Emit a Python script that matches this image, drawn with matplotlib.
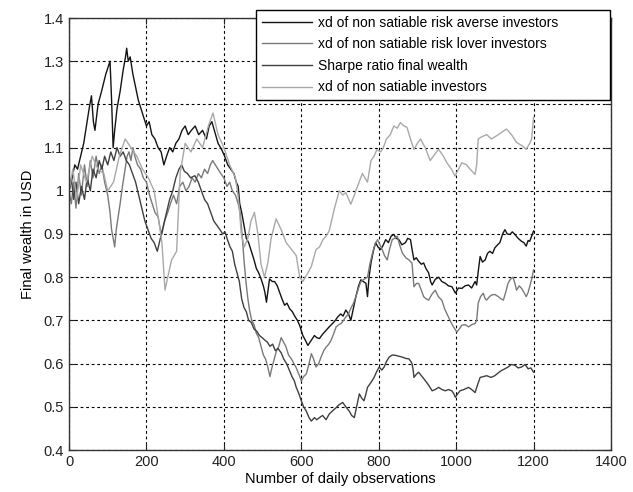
import matplotlib
matplotlib.use("Agg")
import matplotlib.pyplot as plt
from matplotlib.ticker import FormatStrFormatter


averse_x = [0, 8, 15, 22, 30, 38, 45, 52, 58, 63, 67, 75, 84, 95, 106, 110, 114, 118, 124, 132,
            140, 146, 149, 153, 158, 165, 172, 179, 186, 193, 200, 207, 214, 222, 230, 238, 245, 252, 260, 268,
            276, 284, 292, 300, 308, 316, 326, 335, 345, 355, 362, 369, 377, 385, 394, 402, 410, 418, 426, 432,
            437, 441, 446, 452, 458, 464, 471, 478, 484, 490, 496, 502, 506, 510, 514, 518, 525, 531, 538, 544,
            550, 557, 563, 570, 577, 583, 590, 596, 604, 610, 617, 626, 634, 640, 647, 655, 664, 672, 681, 688,
            694, 702, 708, 715, 722, 728, 735, 741, 748, 754, 760, 767, 771, 775, 780, 786, 792, 798, 805, 812,
            818, 825, 832, 839, 845, 852, 860, 869, 875, 882, 887, 891, 897, 903, 910, 916, 922, 929, 934, 938,
            946, 955, 963, 972, 980, 989, 994, 998, 1006, 1015, 1023, 1032, 1040, 1049, 1053, 1058, 1062, 1068, 1075, 1081,
            1087, 1094, 1100, 1107, 1113, 1120, 1126, 1132, 1139, 1145, 1152, 1160, 1169, 1175, 1181, 1186, 1190, 1195, 1200]
averse_y = [1.00, 1.03, 1.06, 1.05, 1.08, 1.11, 1.15, 1.19, 1.22, 1.16, 1.14, 1.20, 1.23, 1.27, 1.30, 1.21, 1.10, 1.14, 1.19, 1.23,
            1.28, 1.31, 1.33, 1.30, 1.31, 1.27, 1.24, 1.21, 1.19, 1.17, 1.15, 1.16, 1.13, 1.12, 1.10, 1.09, 1.06, 1.08, 1.10, 1.09,
            1.11, 1.12, 1.14, 1.15, 1.13, 1.14, 1.15, 1.13, 1.14, 1.12, 1.15, 1.16, 1.135, 1.11, 1.096, 1.08, 1.06, 1.05, 1.04, 1.02,
            1.01, 0.97, 0.95, 0.92, 0.89, 0.88, 0.86, 0.84, 0.82, 0.81, 0.796, 0.78, 0.765, 0.742, 0.77, 0.796, 0.79, 0.79, 0.78, 0.765,
            0.75, 0.735, 0.74, 0.727, 0.72, 0.71, 0.70, 0.688, 0.665, 0.655, 0.642, 0.654, 0.665, 0.66, 0.658, 0.668, 0.677, 0.685, 0.693, 0.70,
            0.708, 0.715, 0.71, 0.724, 0.715, 0.70, 0.73, 0.755, 0.78, 0.794, 0.79, 0.786, 0.755, 0.80, 0.833, 0.86, 0.88, 0.87, 0.864, 0.875,
            0.887, 0.88, 0.895, 0.899, 0.89, 0.887, 0.875, 0.88, 0.89, 0.887, 0.86, 0.84, 0.845, 0.837, 0.83, 0.833, 0.82, 0.81, 0.79, 0.782,
            0.795, 0.80, 0.79, 0.786, 0.78, 0.778, 0.77, 0.763, 0.775, 0.774, 0.78, 0.782, 0.775, 0.79, 0.782, 0.82, 0.848, 0.835, 0.84, 0.855,
            0.86, 0.855, 0.868, 0.875, 0.88, 0.90, 0.91, 0.90, 0.899, 0.905, 0.899, 0.89, 0.883, 0.88, 0.872, 0.885, 0.883, 0.895, 0.907]

lover_x = [0, 6, 12, 18, 25, 32, 40, 47, 55, 62, 70, 78, 85, 92, 100, 106, 110, 114, 118, 122,
           127, 132, 138, 145, 150, 155, 160, 165, 170, 177, 185, 192, 200, 208, 215, 222, 230, 236, 240, 247,
           255, 262, 270, 278, 286, 294, 302, 310, 318, 326, 334, 342, 350, 358, 365, 371, 378, 385, 392, 400,
           408, 415, 422, 430, 437, 442, 447, 452, 457, 462, 467, 472, 478, 484, 490, 496, 502, 508, 514, 519,
           524, 530, 536, 542, 548, 554, 560, 567, 575, 581, 587, 594, 600, 606, 613, 620, 626, 632, 638, 645,
           651, 658, 664, 671, 677, 684, 690, 697, 703, 709, 715, 722, 728, 735, 741, 748, 754, 762, 771, 777,
           784, 790, 797, 803, 809, 815, 822, 828, 835, 841, 848, 854, 861, 870, 878, 883, 886, 889, 891, 897,
           903, 910, 916, 922, 929, 937, 946, 954, 963, 971, 980, 987, 993, 1002, 1008, 1015, 1024, 1032, 1040, 1049,
           1053, 1057, 1063, 1070, 1075, 1079, 1086, 1092, 1100, 1109, 1116, 1122, 1128, 1134, 1140, 1147, 1152, 1156, 1163, 1169,
           1175, 1181, 1186, 1190, 1195, 1200]
lover_y = [1.00, 0.97, 1.02, 0.96, 1.04, 0.99, 1.06, 1.01, 1.07, 1.03, 1.08, 1.04, 1.06, 1.02, 0.99, 0.95, 0.91, 0.89, 0.87, 0.91,
           0.94, 0.97, 1.01, 1.05, 1.08, 1.09, 1.07, 1.10, 1.08, 1.06, 1.05, 1.03, 1.02, 0.99, 0.97, 0.95, 0.94, 0.91, 0.90, 0.93,
           0.95, 0.97, 0.99, 0.97, 1.01, 1.02, 1.00, 1.01, 1.03, 1.02, 1.04, 1.03, 1.05, 1.04, 1.06, 1.07, 1.06, 1.05, 1.04, 1.03,
           1.01, 1.02, 1.00, 0.99, 0.97, 0.95, 0.90, 0.84, 0.79, 0.75, 0.72, 0.70, 0.69, 0.67, 0.66, 0.64, 0.62, 0.61, 0.59, 0.57,
           0.59, 0.61, 0.63, 0.64, 0.66, 0.65, 0.64, 0.62, 0.61, 0.60, 0.59, 0.575, 0.56, 0.57, 0.576, 0.60, 0.623, 0.61, 0.592, 0.60,
           0.615, 0.63, 0.638, 0.645, 0.654, 0.67, 0.685, 0.69, 0.693, 0.70, 0.708, 0.715, 0.728, 0.74, 0.755, 0.775, 0.79, 0.795, 0.80, 0.83,
           0.856, 0.875, 0.887, 0.875, 0.864, 0.85, 0.84, 0.865, 0.887, 0.89, 0.895, 0.875, 0.856, 0.845, 0.84, 0.835, 0.833, 0.80, 0.778, 0.785,
           0.786, 0.77, 0.755, 0.75, 0.747, 0.76, 0.77, 0.755, 0.747, 0.725, 0.708, 0.695, 0.685, 0.673, 0.68, 0.689, 0.69, 0.685, 0.69, 0.693,
           0.70, 0.74, 0.755, 0.763, 0.75, 0.747, 0.755, 0.759, 0.76, 0.755, 0.75, 0.747, 0.765, 0.786, 0.795, 0.80, 0.785, 0.77, 0.78, 0.774,
           0.765, 0.755, 0.765, 0.778, 0.795, 0.817]

sharpe_x = [0, 6, 12, 18, 25, 32, 40, 47, 55, 62, 70, 78, 85, 92, 100, 108, 116, 124, 132, 140,
            148, 156, 164, 172, 180, 188, 196, 204, 212, 220, 228, 236, 244, 252, 260, 268, 276, 284, 291, 298,
            306, 314, 325, 334, 342, 350, 358, 366, 374, 382, 390, 397, 403, 410, 416, 422, 428, 434, 440, 446,
            452, 458, 464, 471, 478, 485, 492, 499, 505, 512, 519, 526, 533, 540, 548, 555, 562, 569, 576, 582,
            587, 594, 600, 606, 613, 620, 626, 634, 640, 647, 655, 664, 672, 680, 690, 698, 707, 715, 724, 730,
            737, 743, 750, 756, 762, 767, 771, 779, 788, 794, 801, 808, 814, 820, 827, 835, 844, 852, 861, 870,
            878, 883, 886, 889, 891, 897, 903, 912, 920, 929, 938, 946, 955, 963, 972, 980, 989, 994, 998, 1004,
            1010, 1020, 1032, 1040, 1049, 1055, 1062, 1070, 1079, 1090, 1100, 1108, 1117, 1126, 1134, 1143, 1152, 1160, 1169, 1178,
            1186, 1193, 1200]
sharpe_y = [1.00, 1.03, 0.98, 1.02, 0.97, 1.01, 0.98, 1.03, 1.00, 1.05, 1.03, 1.07, 1.05, 1.08, 1.06, 1.09, 1.07, 1.10, 1.08, 1.09,
            1.07, 1.06, 1.04, 1.02, 0.99, 0.96, 0.93, 0.91, 0.89, 0.88, 0.86, 0.89, 0.92, 0.95, 0.98, 1.00, 1.03, 1.05, 1.06, 1.045,
            1.04, 1.03, 1.035, 1.02, 1.00, 0.98, 0.97, 0.95, 0.93, 0.92, 0.91, 0.90, 0.905, 0.885, 0.87, 0.86, 0.83, 0.81, 0.79, 0.75,
            0.73, 0.72, 0.70, 0.695, 0.68, 0.675, 0.665, 0.66, 0.655, 0.65, 0.64, 0.645, 0.63, 0.635, 0.625, 0.61, 0.60, 0.585, 0.57, 0.56,
            0.545, 0.53, 0.514, 0.50, 0.49, 0.475, 0.467, 0.475, 0.47, 0.475, 0.48, 0.47, 0.483, 0.49, 0.498, 0.505, 0.51, 0.50, 0.49, 0.48,
            0.475, 0.50, 0.53, 0.52, 0.514, 0.53, 0.545, 0.555, 0.568, 0.58, 0.592, 0.585, 0.592, 0.605, 0.615, 0.62, 0.619, 0.617, 0.615, 0.612,
            0.611, 0.605, 0.60, 0.585, 0.568, 0.575, 0.58, 0.57, 0.561, 0.55, 0.537, 0.54, 0.545, 0.54, 0.537, 0.54, 0.537, 0.53, 0.522, 0.53,
            0.537, 0.54, 0.545, 0.54, 0.533, 0.55, 0.568, 0.57, 0.572, 0.568, 0.572, 0.578, 0.584, 0.588, 0.592, 0.598, 0.596, 0.59, 0.592, 0.598,
            0.588, 0.59, 0.58]

satiable_x = [0, 10, 20, 30, 45, 60, 75, 90, 100, 115, 130, 145, 160, 175, 190, 205, 220, 232, 240, 248,
              255, 265, 278, 287, 300, 315, 330, 345, 360, 372, 385, 400, 415, 430, 438, 445, 453, 462, 470, 479,
              488, 496, 505, 514, 522, 535, 548, 561, 574, 587, 596, 604, 617, 626, 638, 647, 656, 664, 672, 685,
              698, 707, 715, 728, 737, 745, 758, 771, 780, 788, 795, 805, 812, 820, 830, 839, 848, 856, 865, 873,
              882, 891, 900, 908, 920, 933, 945, 955, 967, 976, 988, 997, 1006, 1015, 1027, 1036, 1049, 1053, 1057, 1066,
              1079, 1091, 1104, 1117, 1130, 1143, 1156, 1169, 1181, 1190, 1195, 1200]
satiable_y = [1.00, 1.05, 0.98, 1.06, 1.02, 1.08, 1.05, 1.04, 1.00, 1.02, 1.08, 1.12, 1.10, 1.08, 1.05, 1.03, 1.00, 0.93, 0.88, 0.77,
              0.80, 0.84, 0.86, 1.04, 1.11, 1.09, 1.12, 1.10, 1.15, 1.18, 1.13, 1.10, 1.06, 1.03, 0.98, 0.90, 0.87, 0.89, 0.93, 0.95,
              0.90, 0.83, 0.80, 0.835, 0.89, 0.935, 0.91, 0.88, 0.865, 0.85, 0.80, 0.79, 0.81, 0.825, 0.864, 0.87, 0.887, 0.895, 0.907, 0.957,
              1.00, 0.99, 0.996, 0.969, 0.99, 1.01, 1.04, 1.02, 1.07, 1.08, 1.095, 1.09, 1.10, 1.12, 1.13, 1.15, 1.145, 1.158, 1.15, 1.147,
              1.12, 1.096, 1.11, 1.12, 1.10, 1.07, 1.085, 1.096, 1.08, 1.065, 1.05, 1.034, 1.05, 1.065, 1.06, 1.05, 1.038, 1.06, 1.12, 1.125,
              1.13, 1.12, 1.127, 1.135, 1.143, 1.13, 1.112, 1.105, 1.096, 1.11, 1.12, 1.17]

labels = ["xd of non satiable risk averse investors",
          "xd of non satiable risk lover investors",
          "Sharpe ratio final wealth",
          "xd of non satiable investors"]
colors = ["#141414", "#7a7a7a", "#404040", "#a9a9a9"]

x_ticks = [0, 200, 400, 600, 800, 1000, 1200, 1400]
y_ticks = [0.4, 0.5, 0.6, 0.7, 0.8, 0.9, 1.0, 1.1, 1.2, 1.3, 1.4]


plt.rcParams["font.family"] = ["Liberation Sans", "DejaVu Sans"]

fig = plt.figure(figsize=(6.33, 4.92), dpi=100)
ax = fig.add_axes([69 / 633, 1 - 450 / 492, 542 / 633, 432 / 492])

series = [(averse_x, averse_y), (lover_x, lover_y), (sharpe_x, sharpe_y), (satiable_x, satiable_y)]
for (xs, ys), lab, col in zip(series, labels, colors):
    ax.plot(xs, ys, color=col, lw=1.0, label=lab)

ax.set_xlim(0, 1400)
ax.set_ylim(0.4, 1.4)
ax.set_xticks(x_ticks)
ax.set_yticks(y_ticks)
ax.yaxis.set_major_formatter(FormatStrFormatter("%g"))
ax.tick_params(direction="in", length=4, top=True, right=True, labelsize=10.5, colors="#222222")
ax.grid(True, color="black", linestyle=(0, (2.5, 2.5)), linewidth=0.8)
for sp in ax.spines.values():
    sp.set_linewidth(1.0)
    sp.set_color("#333333")

ax.set_xlabel("Number of daily observations", fontsize=10.5, labelpad=2)
ax.set_ylabel("Final wealth in USD", fontsize=10.5, labelpad=6)

leg = ax.legend(loc="upper left", bbox_to_anchor=(0.345, 0.794, 0.653, 0.2245), mode="expand",
                fontsize=10, handlelength=3.6, handletextpad=0.5, labelspacing=0.55,
                borderaxespad=0, fancybox=False, framealpha=1, edgecolor="black")
leg.get_frame().set_linewidth(1.0)

fig.savefig("out.png", dpi=100)
